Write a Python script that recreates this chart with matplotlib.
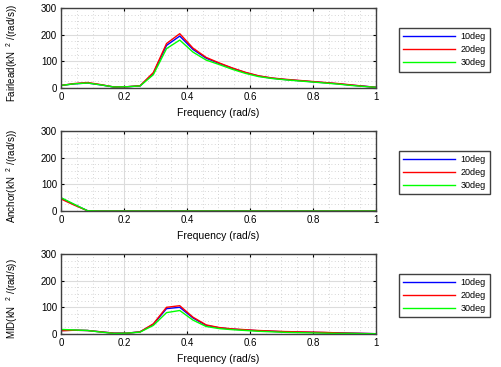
import matplotlib
matplotlib.use('Agg')
import matplotlib.pyplot as plt
import matplotlib.ticker as ticker

plt.rcParams['font.family'] = ['Liberation Sans', 'DejaVu Sans']
plt.rcParams['mathtext.fontset'] = 'custom'
plt.rcParams['mathtext.rm'] = 'Liberation Sans'

# frequencies (rad/s)
freq = [0.0, 0.042, 0.084, 0.126, 0.168, 0.209, 0.251, 0.293, 0.335, 0.377,
        0.419, 0.461, 0.503, 0.545, 0.586, 0.628, 0.670, 0.712, 0.754, 0.796,
        0.838, 0.880, 0.921, 0.963, 1.0]

labels = ['10deg', '20deg', '30deg']
colors = ['#0000ff', '#ff0000', '#00ff00']

fair_10 = [10, 16, 19, 12, 4, 5, 8, 55, 160, 195, 145, 112, 92, 74, 58, 45,
           37, 32, 28, 24, 20, 16, 11, 7, 3]
fair_20 = [10, 17, 21, 13, 4, 5, 9, 58, 167, 204, 150, 115, 94, 75, 59, 46,
           38, 33, 29, 25, 21, 17, 12, 7, 3]
fair_30 = [10, 16, 19, 12, 4, 5, 8, 50, 148, 180, 135, 105, 88, 70, 55, 43,
           36, 31, 27, 23, 19, 15, 10, 6, 3]

anch_10 = [48, 24, 1, 0, 0, 0, 0, 0, 0, 0, 0, 0, 0, 0, 0, 0, 0, 0, 0, 0, 0, 0, 0, 0, 0]
anch_20 = [45, 22, 1, 0, 0, 0, 0, 0, 0, 0, 0, 0, 0, 0, 0, 0, 0, 0, 0, 0, 0, 0, 0, 0, 0]
anch_30 = [50, 25, 1, 0, 0, 0, 0, 0, 0, 0, 0, 0, 0, 0, 0, 0, 0, 0, 0, 0, 0, 0, 0, 0, 0]

mid_10 = [13, 14, 13, 8, 3, 3, 8, 36, 95, 100, 60, 32, 23, 18, 15, 12,
          10, 8, 7, 6, 5, 4, 3, 2, 1]
mid_20 = [12, 14, 13, 8, 3, 3, 8, 38, 100, 106, 63, 34, 24, 19, 16, 13,
          11, 9, 8, 7, 6, 4, 3, 2, 1]
mid_30 = [17, 15, 13, 7, 2, 3, 7, 32, 80, 88, 52, 28, 20, 16, 13, 10,
          8, 6, 5, 4, 3, 2, 2, 1, 1]

panels = [
    ('Fairlead(kN', [fair_10, fair_20, fair_30]),
    ('Anchor(kN', [anch_10, anch_20, anch_30]),
    ('MID(kN', [mid_10, mid_20, mid_30]),
]

fig = plt.figure(figsize=(5.01, 3.67), dpi=100)

bottoms = [0.760, 0.425, 0.090]
for (name, series), b in zip(panels, bottoms):
    ax = fig.add_axes([0.122, b, 0.628, 0.218])
    for y, c, lab in zip(series, colors, labels):
        ax.plot(freq, y, '-', color=c, lw=1.0, label=lab)
    ax.set_xlim(0, 1)
    ax.set_ylim(0, 300)
    ax.set_xticks([0, 0.2, 0.4, 0.6, 0.8, 1])
    ax.set_xticklabels(['0', '0.2', '0.4', '0.6', '0.8', '1'])
    ax.set_yticks([0, 100, 200, 300])
    ax.xaxis.set_minor_locator(ticker.MultipleLocator(0.05))
    ax.yaxis.set_minor_locator(ticker.MultipleLocator(25))
    ax.grid(True, which='major', color='#dcdcdc', lw=0.8, ls='-')
    ax.grid(True, which='minor', color='#c8c8c8', lw=0.6, ls=(0, (1, 3)))
    ax.set_axisbelow(True)
    ax.tick_params(which='both', direction='in', labelsize=7, length=2,
                   top=True, right=True, pad=3)
    ax.tick_params(which='minor', length=0)
    for s in ax.spines.values():
        s.set_color('#404040')
        s.set_linewidth(1.0)
    ax.set_xlabel('Frequency (rad/s)', fontsize=7.5, labelpad=4)
    ax.set_ylabel(name + r'  $^{\mathrm{2}}$ /(rad/s))', fontsize=7)
    ax.yaxis.set_label_coords(-0.13, 0.44)
    ax.legend(loc='upper left', bbox_to_anchor=(0.796, b + 0.218 - 0.055),
              bbox_transform=fig.transFigure, fontsize=6.5, handlelength=5.8,
              handletextpad=0.6, borderpad=0.45, labelspacing=0.45,
              frameon=True, fancybox=False, edgecolor='#404040',
              framealpha=1.0, borderaxespad=0)

fig.savefig('out.png', dpi=100)
